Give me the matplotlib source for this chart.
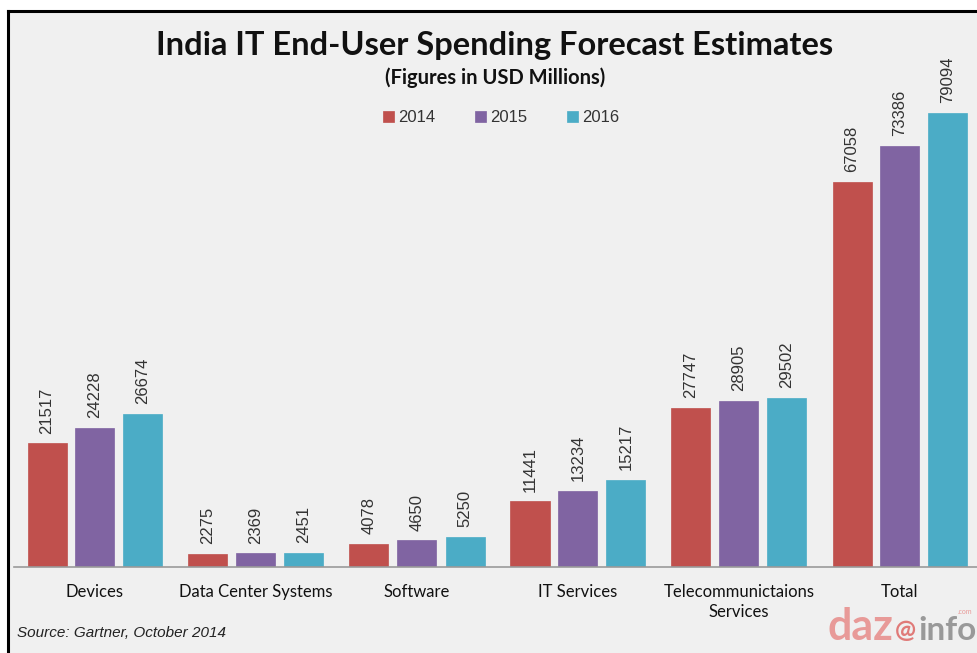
#!/usr/bin/env python3
"""India IT end-user spending forecast, grouped bar chart."""

import matplotlib

matplotlib.use("Agg")

import matplotlib.pyplot as plt
import numpy as np
from matplotlib import patches
from matplotlib.lines import Line2D

categories = [
    "Devices",
    "Data Center Systems",
    "Software",
    "IT Services",
    "Telecommunictaions\nServices",
    "Total",
]
years = ["2014", "2015", "2016"]
spend_2014 = [21517, 2275, 4078, 11441, 27747, 67058]
spend_2015 = [24228, 2369, 4650, 13234, 28905, 73386]
spend_2016 = [26674, 2451, 5250, 15217, 29502, 79094]

COLORS = ["#c0504d", "#8064a2", "#4bacc6"]
BG = "#f0f0f0"
W, H = 978, 653


def px(x, y):
    # pixel (from top-left) -> figure fraction
    return x / W, 1 - y / H


fig = plt.figure(figsize=(9.78, 6.53), dpi=100, facecolor="white")

# grey panel with black top/left border
fig.patches.append(
    patches.Rectangle((8 / W, 0), 1, 1 - 11 / H, transform=fig.transFigure,
                      facecolor=BG, edgecolor="none", zorder=-5)
)
fig.add_artist(Line2D([8 / W, 1], [1 - 11 / H] * 2, transform=fig.transFigure,
                      color="black", linewidth=2.2))
fig.add_artist(Line2D([8 / W] * 2, [0, 1 - 11 / H], transform=fig.transFigure,
                      color="black", linewidth=2.2))

# axes: baseline at y=567 px, left at x=14 px
left, bottom = px(14, 567)
top_px = 60
ax = fig.add_axes([left, bottom, 1 - left, (567 - top_px) / H])
ax.set_facecolor("none")

x = np.arange(len(categories))
width = 39 / 161
offset = 48 / 161
series = [spend_2014, spend_2015, spend_2016]
for i, (vals, color, year) in enumerate(zip(series, COLORS, years)):
    pos = x + (i - 1) * offset
    bars = ax.bar(pos, vals, width, color=color, label=year, zorder=2,
                  edgecolor=color, linewidth=0.5)
    for b, v in zip(bars, vals):
        ax.annotate(f"{v}", (b.get_x() + b.get_width() / 2, v),
                    xytext=(0, 7), textcoords="offset points",
                    rotation=90, ha="center", va="bottom",
                    fontsize=12, color="#333333", family="Liberation Sans")

per_px = 79094 / (567 - 113)
ax.set_ylim(0, (567 - top_px) * per_px)
ax.set_xlim(-81 / 161, (978 - 14 - 81) / 161)
ax.set_yticks([])
ax.set_xticks(x)
ax.set_xticklabels(categories, fontsize=12, family="Lato", color="#111111",
                   linespacing=1.3)
ax.tick_params(axis="x", length=0, pad=12)
for s in ["top", "right", "left"]:
    ax.spines[s].set_visible(False)
ax.spines["bottom"].set_color("#9a9a9a")
ax.spines["bottom"].set_linewidth(1.2)

# titles
fig.text(*px(495, 46), "India IT End-User Spending Forecast Estimates",
         ha="center", va="center", fontsize=23.5, fontweight="bold",
         family="Lato", color="#111111")
fig.text(*px(495, 78), "(Figures in USD Millions)", ha="center", va="center",
         fontsize=14.5, fontweight="bold", family="Lato", color="#111111")

leg = ax.legend(ncol=3, loc="center", bbox_to_anchor=px(501, 118),
                bbox_transform=fig.transFigure, frameon=False,
                handlelength=0.65, handleheight=0.65, handletextpad=0.25,
                columnspacing=2.4, prop={"family": "Liberation Sans", "size": 12})
for t in leg.get_texts():
    t.set_color("#333333")

fig.text(*px(17, 633), "Source: Gartner, October 2014", ha="left", va="center",
         fontsize=11, style="italic", family="Liberation Sans", color="#222222")

# dazinfo watermark
fig.text(*px(828, 640), "daz", ha="left", va="baseline", fontsize=31,
         fontweight="bold", family="Lato", color="#e89a98")
fig.text(*px(895, 638), "@", ha="left", va="baseline", fontsize=18,
         fontweight="bold", family="Lato", color="#e07a78")
fig.text(*px(918, 640), "info", ha="left", va="baseline", fontsize=24,
         fontweight="bold", family="Lato", color="#999999")
fig.text(*px(958, 614), ".com", ha="left", va="baseline", fontsize=5,
         family="Lato", color="#e89a98")

fig.savefig("out.png", dpi=100, facecolor="white")
plt.close(fig)
